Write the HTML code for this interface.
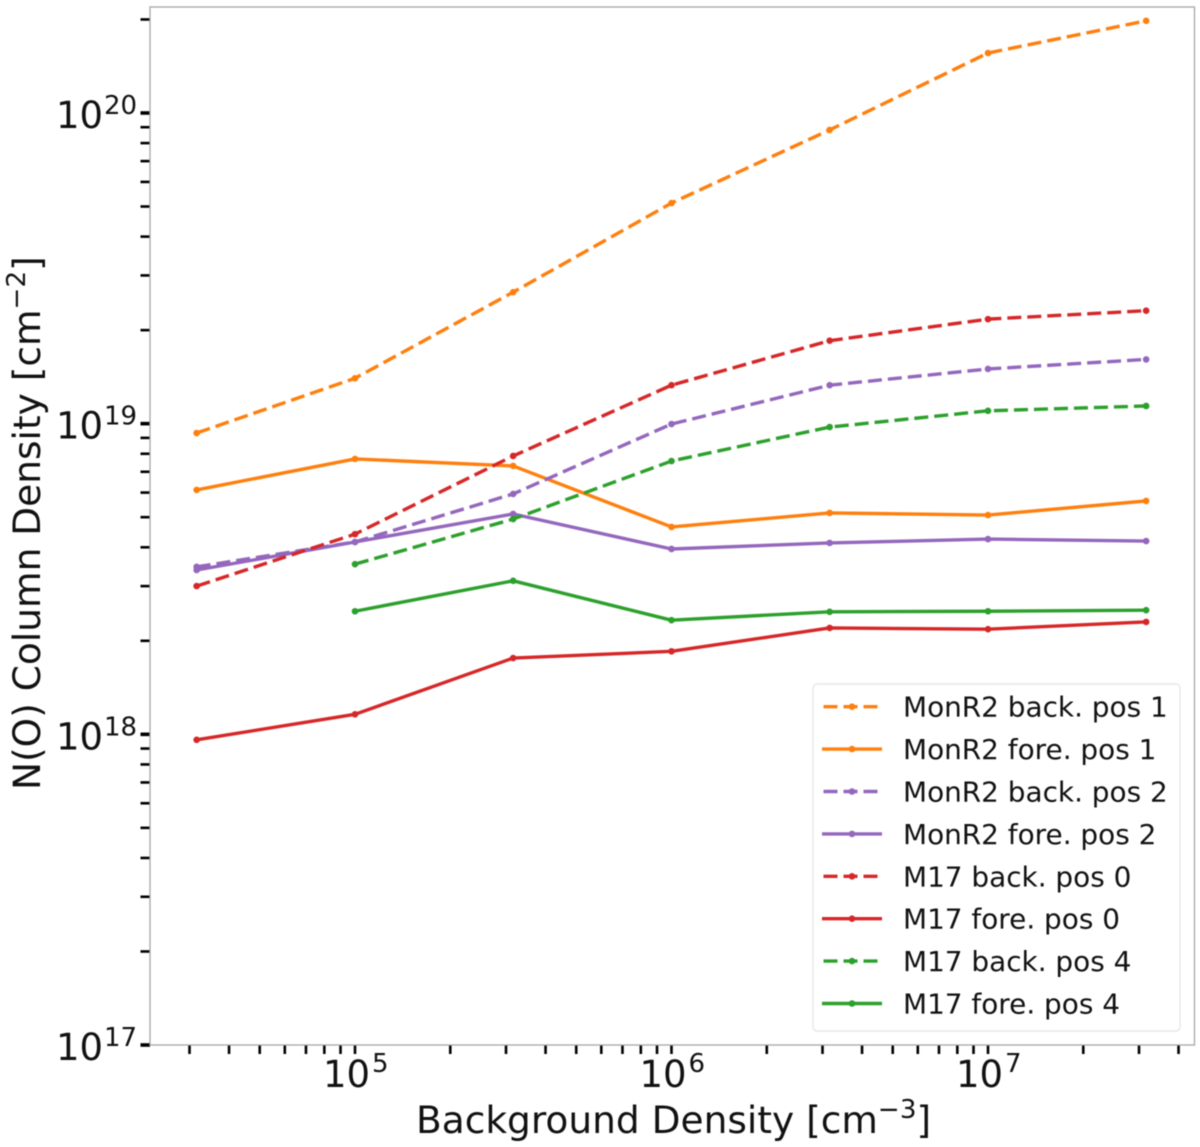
<!DOCTYPE html>
<html lang="en">
<head>
<meta charset="utf-8">
<title>N(O) Column Density vs Background Density</title>
<style>
html,body{margin:0;padding:0;background:#fff;}
body{width:1200px;height:1147px;overflow:hidden;}
svg{display:block;filter:blur(0.45px);}
text{font-family:"DejaVu Sans","Liberation Sans",sans-serif;fill:#111;}
</style>
</head>
<body>
<svg id="chart" xmlns="http://www.w3.org/2000/svg" width="1200" height="1147" viewBox="0 0 1200 1147">
  <rect x="150" y="7" width="1044.5" height="1038" fill="#fff"/>
  <g id="series-layer"></g>
  <g id="tick-layer"></g>
  <rect x="150" y="7" width="1044.5" height="1038" fill="none" stroke="#a6a6a6" stroke-width="1.3"/>
  <text x="416" y="1133" font-size="37.5">Background Density [cm<tspan dy="-15" font-size="26.2">−3</tspan><tspan dy="15">]</tspan></text>
  <text transform="translate(40,790) rotate(-90)" font-size="37.5">N(O) Column Density [cm<tspan dy="-15" font-size="26.2">−2</tspan><tspan dy="15">]</tspan></text>
  <g id="legend">
    <rect x="813" y="684" width="367" height="347" rx="4" fill="#fff" fill-opacity="0.85" stroke="#e4e4e4" stroke-width="1.2"/>
  </g>
</svg>
<script>
// Chart data
const densities = [3.16e4, 1e5, 3.16e5, 1e6, 3.16e6, 1e7, 3.16e7];
const monr2Back1 = [9.33e18, 1.40e19, 2.65e19, 5.13e19, 8.82e19, 1.56e20, 1.98e20];
const monr2Fore1 = [6.12e18, 7.70e18, 7.31e18, 4.65e18, 5.16e18, 5.08e18, 5.64e18];
const monr2Back2 = [3.46e18, 4.16e18, 5.94e18, 9.97e18, 1.33e19, 1.50e19, 1.61e19];
const monr2Fore2 = [3.38e18, 4.16e18, 5.12e18, 3.95e18, 4.13e18, 4.25e18, 4.19e18];
const m17Back0 = [3.00e18, 4.41e18, 7.87e18, 1.33e19, 1.85e19, 2.17e19, 2.31e19];
const m17Fore0 = [9.60e17, 1.16e18, 1.76e18, 1.85e18, 2.20e18, 2.18e18, 2.30e18];
const m17Back4 = [null, 3.53e18, 4.93e18, 7.58e18, 9.75e18, 1.10e19, 1.14e19];
const m17Fore4 = [null, 2.49e18, 3.12e18, 2.33e18, 2.48e18, 2.49e18, 2.51e18];
const seriesLabels = ["MonR2 back. pos 1", "MonR2 fore. pos 1", "MonR2 back. pos 2", "MonR2 fore. pos 2", "M17 back. pos 0", "M17 fore. pos 0", "M17 back. pos 4", "M17 fore. pos 4"];
const seriesValues = [monr2Back1, monr2Fore1, monr2Back2, monr2Fore2, m17Back0, m17Fore0, m17Back4, m17Fore4];
const seriesColors = ["#ff7f0e", "#ff7f0e", "#9467bd", "#9467bd", "#d62728", "#d62728", "#2ca02c", "#2ca02c"];
const seriesDashed = [true, false, true, false, true, false, true, false];
const xDecades = [5, 6, 7];
const yDecades = [17, 18, 19, 20];

// Axis functions (log scales)
function xScale(v) { return 355 + (Math.log10(v) - 5) * 316.5; }
function yScale(v) { return 1045 - (Math.log10(v) - 17) * 310.67; }

const NS = "http://www.w3.org/2000/svg";
function make(tag, attrs, parent) {
  const el = document.createElementNS(NS, tag);
  for (const k in attrs) el.setAttribute(k, attrs[k]);
  parent.appendChild(el);
  return el;
}
const seriesLayer = document.getElementById("series-layer");
const tickLayer = document.getElementById("tick-layer");
const legend = document.getElementById("legend");

// Series
seriesValues.forEach(function (vals, i) {
  const slug = seriesLabels[i].toLowerCase().replace(/\. /g, "-").replace(/ /g, "-");
  const pts = [];
  vals.forEach(function (v, j) {
    if (v !== null) pts.push([xScale(densities[j]), yScale(v)]);
  });
  const line = make("polyline", {
    points: pts.map(function (p) { return p[0].toFixed(2) + "," + p[1].toFixed(2); }).join(" "),
    fill: "none",
    stroke: seriesColors[i],
    "stroke-width": 3.4,
    "stroke-linejoin": "round",
    "stroke-dasharray": seriesDashed[i] ? "14 6" : "none"
  }, seriesLayer);
  
  
  pts.forEach(function (p) {
    const dot = make("circle", { cx: p[0], cy: p[1], r: 3.3, fill: seriesColors[i] }, seriesLayer);
    
    
  });
});

// X ticks
for (let d = 4; d <= 7; d++) {
  for (let m = 1; m <= 9; m++) {
    const v = m * Math.pow(10, d);
    const px = xScale(v);
    if (px < 150 || px > 1194.5) continue;
    const t = make("line", { x1: px, x2: px, y1: 1045, y2: 1054, stroke: "#000", "stroke-width": 2.6 }, tickLayer);
    
    
  }
}
xDecades.forEach(function (d) {
  const px = xScale(Math.pow(10, d));
  const base = make("text", { x: px - 32, y: 1087, "font-size": 37 }, tickLayer);
  base.textContent = "10";
  
  
  const exp = make("text", { x: px + 17, y: 1072, "font-size": 26 }, tickLayer);
  exp.textContent = String(d);
  
  
});

// Y ticks
for (let d = 17; d <= 20; d++) {
  for (let m = 1; m <= 9; m++) {
    const v = m * Math.pow(10, d);
    const py = yScale(v);
    if (py < 7 || py > 1045) continue;
    const t = make("line", { x1: 140.5, x2: 150, y1: py, y2: py, stroke: "#000", "stroke-width": m === 1 ? 3.6 : 2.6 }, tickLayer);
    
    
  }
}
yDecades.forEach(function (d) {
  const py = yScale(Math.pow(10, d));
  const base = make("text", { x: 56, y: py + 15, "font-size": 37 }, tickLayer);
  base.textContent = "10";
  
  
  const exp = make("text", { x: 104, y: py + 1, "font-size": 26 }, tickLayer);
  exp.textContent = String(d);
  
  
});

// Legend
seriesLabels.forEach(function (label, i) {
  const ly = 706.7 + i * 42.4;
  const row = make("g", {}, legend);
  
  
  const handle = make("line", {
    x1: seriesDashed[i] ? 823.5 : 822, x2: seriesDashed[i] ? 877.5 : 882, y1: ly, y2: ly,
    stroke: seriesColors[i], "stroke-width": 3.4,
    "stroke-dasharray": seriesDashed[i] ? "14 6" : "none"
  }, row);
  
  
  const dot = make("circle", { cx: 852, cy: ly, r: 3.3, fill: seriesColors[i] }, row);
  
  
  const txt = make("text", { x: 903, y: ly + 10, "font-size": 27.9 }, row);
  txt.textContent = label;
  
  
});
</script>
</body>
</html>
